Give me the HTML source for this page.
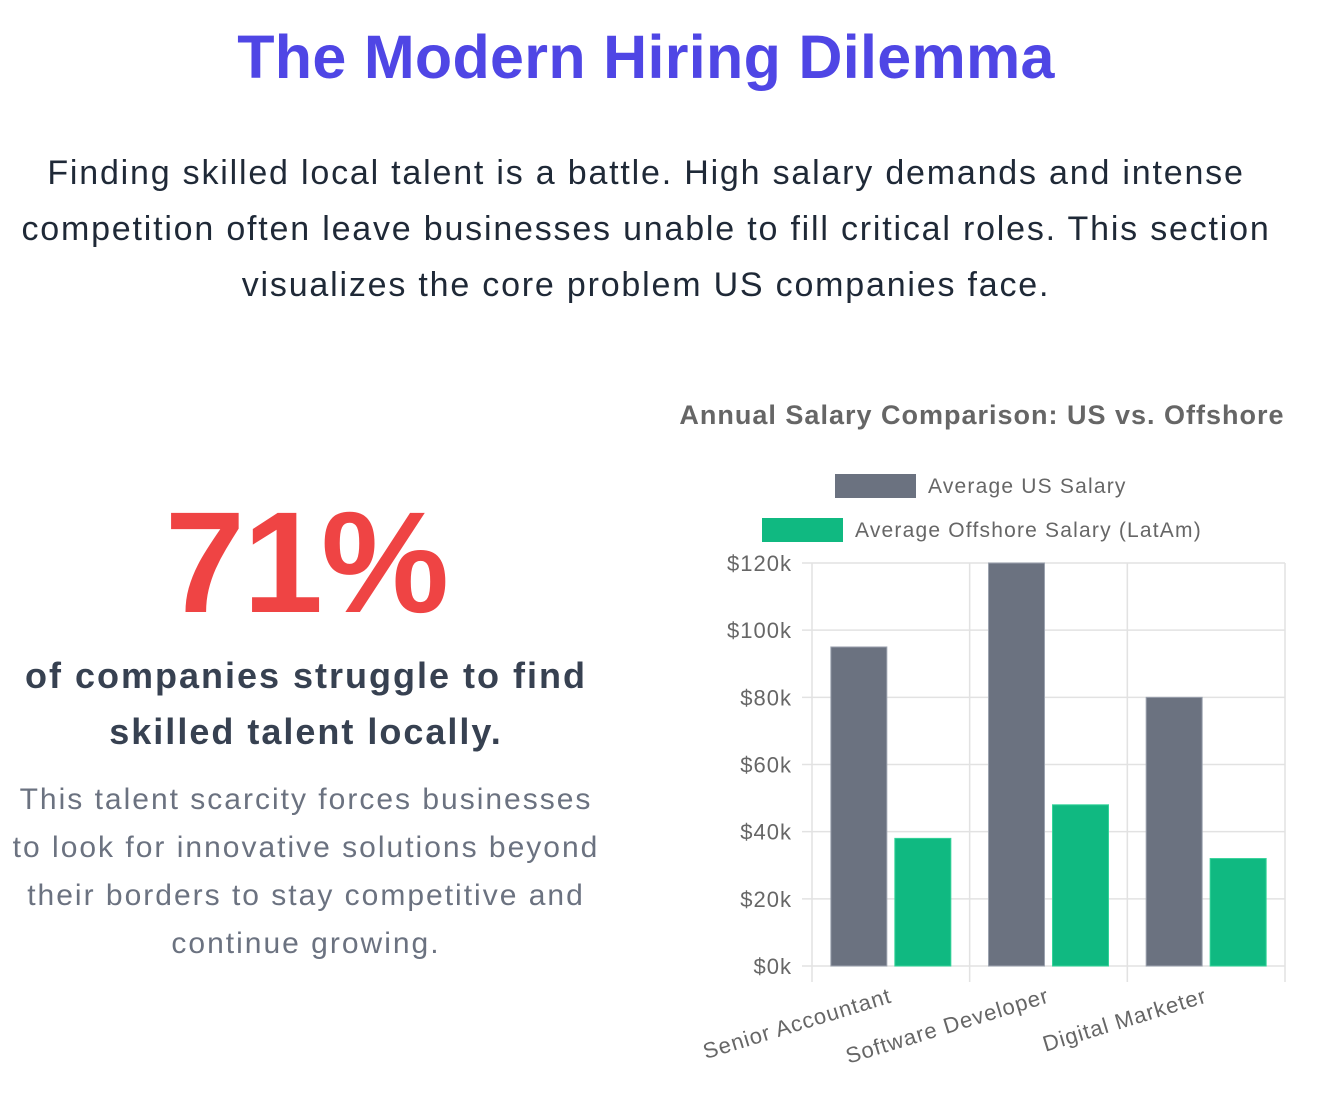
<!DOCTYPE html>
<html><head><meta charset="utf-8"><style>
body{margin:0;width:1332px;height:1094px;background:#fff;font-family:"Liberation Sans",sans-serif;position:relative;overflow:hidden}
.abs{position:absolute}
</style></head><body>
<div class="abs" style="left:0;width:1292px;top:22px;text-align:center;font-size:61px;font-weight:bold;color:#4f46e5;letter-spacing:0.3px;">The Modern Hiring Dilemma</div>
<div class="abs" style="left:0;width:1292px;top:145px;text-align:center;font-size:34px;letter-spacing:1.8px;line-height:56px;color:#1f2937;">Finding skilled local talent is a battle. High salary demands and intense<br>competition often leave businesses unable to fill critical roles. This section<br>visualizes the core problem US companies face.</div>
<div class="abs" style="left:0;width:612px;top:480px;text-align:center;font-size:144px;font-weight:bold;color:#ef4444;letter-spacing:-2px;">71%</div>
<div class="abs" style="left:0;width:612px;top:648px;text-align:center;font-size:36px;letter-spacing:2px;line-height:56px;font-weight:bold;color:#374151;">of companies struggle to find<br>skilled talent locally.</div>
<div class="abs" style="left:0;width:612px;top:776px;text-align:center;font-size:30px;letter-spacing:2px;line-height:48px;color:#6b7280;">This talent scarcity forces businesses<br>to look for innovative solutions beyond<br>their borders to stay competitive and<br>continue growing.</div>
<svg class="abs" style="left:0;top:0" width="1332" height="1094" id="chart"></svg>
<script>
const categories=["Senior Accountant","Software Developer","Digital Marketer"];
const usSalary=[95,120,80];
const offshoreSalary=[38,48,32];
const yTicks=[0,20,40,60,80,100,120];
const seriesNames=["Average US Salary","Average Offshore Salary (LatAm)"];
const NS="http://www.w3.org/2000/svg";
const svg=document.getElementById('chart');
function mk(t,a,txt){const e=document.createElementNS(NS,t);for(const k in a)e.setAttribute(k,a[k]);if(txt!==undefined)e.textContent=txt;svg.appendChild(e);return e;}
const X0=812,X1=1285,Y0=966,Y1=563,YMAX=120;
const y=v=>Y0-(v/YMAX)*(Y0-Y1);
const cw=(X1-X0)/categories.length;
const xc=i=>X0+cw*(i+0.5);
let t=mk('text',{x:982,y:424,'text-anchor':'middle','font-size':27,'font-weight':'bold',fill:'#666','letter-spacing':1},'Annual Salary Comparison: US vs. Offshore');


const colors=['#6b7280','#10b981'];
const legY=[486,530],legX=[835,762];
seriesNames.forEach((n,i)=>{
 let r=mk('rect',{x:legX[i],y:legY[i]-12,width:81,height:24,fill:colors[i]});
 
 
 let tx=mk('text',{x:legX[i]+93,y:legY[i]+7,'font-size':21,fill:'#666','letter-spacing':1.2},n);
 
 
});
yTicks.forEach(v=>{
 let l=mk('line',{x1:X0-10,x2:X1,y1:y(v),y2:y(v),stroke:'#e2e2e2','stroke-width':1.5});
 
 
 let tx=mk('text',{x:792,y:y(v)+8,'text-anchor':'end','font-size':22,fill:'#666','letter-spacing':1},'$'+v+'k');
 
 
});
for(let i=0;i<=categories.length;i++){
 let l=mk('line',{x1:X0+cw*i,x2:X0+cw*i,y1:Y1,y2:Y0+16,stroke:'#e2e2e2','stroke-width':1.5});
 
 
}
const bw=56;
categories.forEach((c,i)=>{
 const cx=xc(i);
 let b=mk('rect',{x:cx-bw-4,y:y(usSalary[i]),width:bw,height:Y0-y(usSalary[i]),fill:'#6b7280',stroke:'#9ca3af','stroke-width':1});
 
 
 let b2=mk('rect',{x:cx+4,y:y(offshoreSalary[i]),width:bw,height:Y0-y(offshoreSalary[i]),fill:'#10b981',stroke:'#34d399','stroke-width':1});
 
 
 let tx=mk('text',{x:cx+2,y:Y0+36,'text-anchor':'end','font-size':22,fill:'#666','letter-spacing':1,transform:`rotate(-17 ${cx+2} ${Y0+36})`},c);
 
 
});
</script>
</body></html>
